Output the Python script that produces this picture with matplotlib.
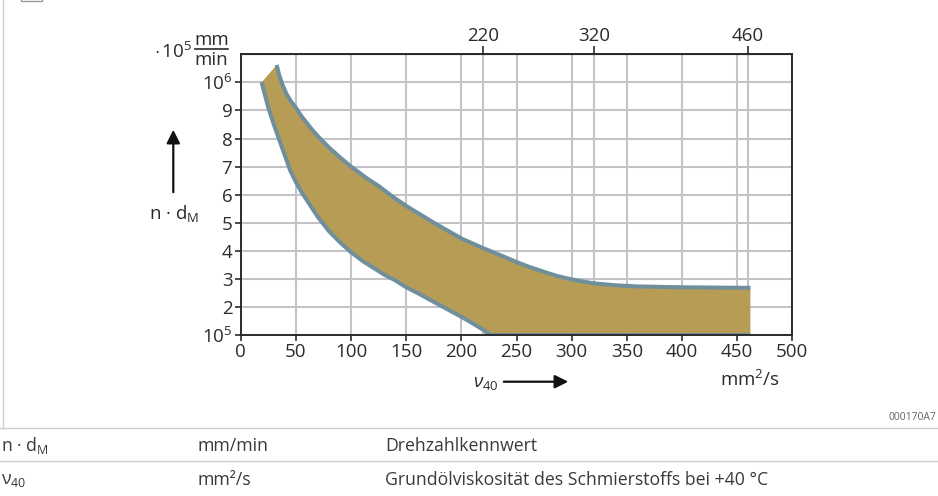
import matplotlib
matplotlib.use("Agg")
import matplotlib.pyplot as plt
from matplotlib.lines import Line2D
from matplotlib.patches import FancyArrowPatch

plt.rcParams["font.family"] = ["Open Sans", "DejaVu Sans"]
plt.rcParams["mathtext.fontset"] = "custom"
plt.rcParams["mathtext.rm"] = "Open Sans"
plt.rcParams["mathtext.it"] = "Open Sans:italic"

# band limits: speed factor n*dM (x 1e5 mm/min) over base oil viscosity v40 (mm2/s)
upper_visc = [32.6, 35, 38, 42, 46, 50, 55, 60, 65, 70, 75, 80, 90, 100, 113, 126, 138, 150,
              175, 200, 220, 235, 250, 262, 275, 287, 300, 320, 340, 360, 400, 462]
upper_ndm = [10.62, 10.25, 9.9, 9.55, 9.3, 9.1, 8.8, 8.55, 8.3, 8.08, 7.88, 7.68, 7.33, 7.0, 6.62,
             6.28, 5.92, 5.6, 5.0, 4.44, 4.09, 3.85, 3.6, 3.42, 3.25, 3.1, 2.98, 2.84, 2.77, 2.73,
             2.70, 2.68]
lower_visc = [19, 22, 25, 30, 35, 40, 45, 50, 55, 60, 65, 70, 75, 80, 90, 100, 110, 120, 130,
              140, 150, 160, 175, 190, 200, 210, 220, 226, 462]
lower_ndm = [10.0, 9.55, 9.1, 8.5, 7.95, 7.4, 6.85, 6.45, 6.1, 5.8, 5.5, 5.2, 4.95, 4.7, 4.3,
             3.95, 3.65, 3.4, 3.15, 2.95, 2.7, 2.5, 2.18, 1.86, 1.65, 1.42, 1.18, 1.0, 1.0]

x_ticks = [0, 50, 100, 150, 200, 250, 300, 350, 400, 450, 500]
y_ticks = [1, 2, 3, 4, 5, 6, 7, 8, 9, 10]
y_ticklabels = ["$10^5$", "2", "3", "4", "5", "6", "7", "8", "9", "$10^6$"]
iso_grades = [220, 320, 460]

table_rows = [
    ("n · d$_\\mathrm{M}$", "mm/min", "Drehzahlkennwert"),
    ("ν$_\\mathrm{40}$", "mm²/s", "Grundölviskosität des Schmierstoffs bei +40 °C"),
]

W, H = 938, 496
FILL = "#b79c55"
EDGE = "#6f8f9c"
GRID = "#c4c4c8"
INK = "#2b2b2b"


def fx(px):
    return px / W


def fy(py):
    return 1 - py / H


fig = plt.figure(figsize=(W / 100, H / 100), dpi=100)
ax = fig.add_axes([fx(240.7), fy(335), fx(792.3) - fx(240.7), fy(54.3) - fy(335)])

ax.set_xlim(0, 500)
ax.set_ylim(1, 11)

for xv in x_ticks + iso_grades:
    ax.axvline(xv, color=GRID, lw=1.5, zorder=0)
for yv in y_ticks:
    ax.axhline(yv, color=GRID, lw=1.5, zorder=0)

band_x = lower_visc + upper_visc[::-1]
band_y = lower_ndm + upper_ndm[::-1]
ax.fill(band_x, band_y, color=FILL, lw=0, zorder=2)
ax.plot(upper_visc, upper_ndm, color=EDGE, lw=2.9, solid_capstyle="butt",
        solid_joinstyle="round", zorder=3)
ax.plot(lower_visc, lower_ndm, color=EDGE, lw=2.9, solid_capstyle="butt",
        solid_joinstyle="round", zorder=3)

ax.set_xticks(x_ticks)
ax.set_yticks(y_ticks)
ax.set_yticklabels(y_ticklabels)
ax.tick_params(axis="both", direction="out", length=4, width=1.2, color=INK,
               labelsize=13.5, labelcolor=INK, pad=2)
for spine in ax.spines.values():
    spine.set_color(INK)
    spine.set_linewidth(1.4)
    spine.set_zorder(5)

top = ax.secondary_xaxis("top")
top.set_xticks(iso_grades)
top.tick_params(direction="out", length=6, width=1.2, color=INK, labelsize=13.5,
                labelcolor=INK, pad=1)

# unit caption of the y axis, built as a stacked fraction
fig.text(fx(192), fy(58), r"$\cdot\,10^5$", ha="right", va="baseline", fontsize=13.5, color=INK)
fig.text(fx(211.5), fy(40), "mm", ha="center", va="center", fontsize=13.5, color=INK)
fig.text(fx(211.5), fy(60), "min", ha="center", va="center", fontsize=13.5, color=INK)
fig.add_artist(Line2D([fx(195), fx(228)], [fy(49), fy(49)], color=INK, lw=1.2))

fig.text(fx(174), fy(214), r"n · d$_\mathrm{M}$", ha="center", va="center",
         fontsize=13.5, color=INK)
fig.patches.append(FancyArrowPatch((fx(173.3), fy(195)), (fx(173.3), fy(127)),
                                   transform=fig.transFigure, arrowstyle="-|>",
                                   mutation_scale=20, lw=1.6, color="#111111"))
fig.text(fx(499), fy(383), r"$\nu_\mathrm{40}$", ha="right", va="center",
         fontsize=13.5, color=INK)
fig.patches.append(FancyArrowPatch((fx(501), fy(381.7)), (fx(571), fy(381.7)),
                                   transform=fig.transFigure, arrowstyle="-|>",
                                   mutation_scale=20, lw=1.6, color="#111111"))
fig.text(fx(750), fy(380), r"mm$^2$/s", ha="center", va="center", fontsize=13.5, color=INK)

fig.text(fx(936), fy(418), "000170A7", ha="right", va="center", fontsize=7.5, color="#666666")

# page frame bits
fig.add_artist(Line2D([fx(3.3), fx(3.3)], [fy(0), fy(428)], color="#d0d0d0", lw=1.0))
fig.add_artist(Line2D([fx(21), fx(21), fx(42), fx(42)], [fy(-5), fy(1), fy(1), fy(-5)],
                      color="#9a9a9a", lw=1.0))

# legend table under the chart
for py in (428, 461):
    fig.add_artist(Line2D([0, 1], [fy(py), fy(py)], color="#cfcfcf", lw=1.0))
row_y = [446, 480]
col_x = [1, 197, 385]
for ry, row in zip(row_y, table_rows):
    for cx, cell in zip(col_x, row):
        fig.text(fx(cx), fy(ry), cell, ha="left", va="center", fontsize=12.7, color="#3a3a3a")

fig.savefig("out.png", dpi=100)
